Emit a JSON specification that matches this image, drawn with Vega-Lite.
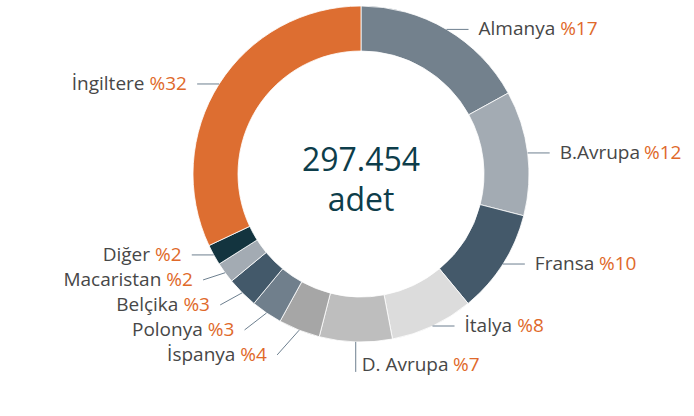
{
  "$schema": "https://vega.github.io/schema/vega-lite/v6.json",
  "autosize": {"type": "none"},
  "width": 666,
  "height": 348,
  "padding": {"left": 28, "top": 0, "right": 0, "bottom": 68},
  "background": "white",
  "config": {"view": {"stroke": null}, "font": "Open Sans"},
  "datasets": {
    "shares": [
      {"country": "Almanya", "value": 17, "order": 1},
      {"country": "B.Avrupa", "value": 12, "order": 2},
      {"country": "Fransa", "value": 10, "order": 3},
      {"country": "İtalya", "value": 8, "order": 4},
      {"country": "D. Avrupa", "value": 7, "order": 5},
      {"country": "İspanya", "value": 4, "order": 6},
      {"country": "Polonya", "value": 3, "order": 7},
      {"country": "Belçika", "value": 3, "order": 8},
      {"country": "Macaristan", "value": 2, "order": 9},
      {"country": "Diğer", "value": 2, "order": 10},
      {"country": "İngiltere", "value": 32, "order": 11}
    ],
    "total": [{"amount": "297.454", "unit": "adet"}]
  },
  "data": {"name": "shares"},
  "transform": [
    {"joinaggregate": [{"op": "sum", "field": "value", "as": "total"}]},
    {"window": [{"op": "sum", "field": "value", "as": "cum"}], "sort": [{"field": "order"}], "frame": [null, 0]},
    {"calculate": "2*PI*(datum.cum - datum.value/2)/datum.total", "as": "ang"},
    {"calculate": "168*sin(datum.ang)", "as": "ax"},
    {"calculate": "168*cos(datum.ang)", "as": "ay"},
    {"calculate": "abs(sin(datum.ang)) < 0.2", "as": "vert"},
    {"calculate": "(datum.vert || sin(datum.ang) > 0) ? 'left' : 'right'", "as": "side"},
    {"calculate": "datum.vert ? datum.ay - 23 : datum.ay", "as": "ty"},
    {"window": [{"op": "row_number", "as": "k"}], "groupby": ["side"], "sort": [{"field": "ty", "order": "descending"}]},
    {"calculate": "datum.ty + 25*datum.k", "as": "tk"},
    {"window": [{"op": "min", "field": "tk", "as": "mk"}], "groupby": ["side"], "sort": [{"field": "ty", "order": "descending"}], "frame": [null, 0]},
    {"calculate": "datum.mk - 25*datum.k", "as": "ly"},
    {"calculate": "datum.vert ? datum.ax : datum.ax + (datum.side == 'left' ? 22 : -22)", "as": "ex"},
    {"calculate": "datum.vert ? datum.ay - 30 : datum.ly", "as": "ey"},
    {"calculate": "datum.vert ? datum.ax + 6 : datum.ex + (datum.side == 'left' ? 10 : -10)", "as": "lx"},
    {"calculate": "'%' + datum.value", "as": "pct"},
    {"calculate": "19*(0.838 + 0.572*(length(datum.pct) - 1))", "as": "wpct"},
    {"calculate": "19*(0.6*length(datum.country) - 0.34*(length(datum.country) - length(replace(datum.country, regexp('[ilİI. ]', 'g'), ''))) - 0.22*(length(datum.country) - length(replace(datum.country, regexp('[rtfj]', 'g'), ''))) - 0.1*(length(datum.country) - length(replace(datum.country, regexp('[scçvykzFL]', 'g'), ''))) - 0.044*(length(datum.country) - length(replace(datum.country, regexp('[ae]', 'g'), ''))) + 0.02*(length(datum.country) - length(replace(datum.country, regexp('[nupdbhqoğgABP]', 'g'), ''))) + 0.13*(length(datum.country) - length(replace(datum.country, regexp('[DCNHRU]', 'g'), ''))) + 0.32*(length(datum.country) - length(replace(datum.country, regexp('[mMW]', 'g'), ''))))", "as": "wname"},
    {"calculate": "datum.side == 'left' ? datum.lx : datum.lx - datum.wpct - 5", "as": "nx"},
    {"calculate": "datum.side == 'left' ? datum.lx + datum.wname + 5 : datum.lx - datum.wpct", "as": "px"}
  ],
  "layer": [
    {
      "mark": {"type": "arc", "outerRadius": 168, "innerRadius": 123, "stroke": "white", "strokeWidth": 0.8},
      "encoding": {
        "theta": {"field": "value", "type": "quantitative", "stack": true},
        "order": {"field": "order", "type": "quantitative"},
        "color": {
          "field": "country", "type": "nominal", "legend": null,
          "scale": {
            "domain": ["Almanya", "B.Avrupa", "Fransa", "İtalya", "D. Avrupa", "İspanya", "Polonya", "Belçika", "Macaristan", "Diğer", "İngiltere"],
            "range": ["#73818d", "#a3abb3", "#44596a", "#dcdcdc", "#bebebe", "#a6a6a6", "#707f8c", "#43596a", "#a3abb3", "#13343f", "#dd6e31"]
          }
        }
      }
    },
    {
      "mark": {"type": "rule", "color": "#6d7f8f", "strokeWidth": 1},
      "encoding": {
        "x": {"field": "ax", "type": "quantitative", "scale": {"domain": [-333, 333], "nice": false, "zero": false}, "axis": null},
        "y": {"field": "ay", "type": "quantitative", "scale": {"domain": [-174, 174], "nice": false, "zero": false}, "axis": null},
        "x2": {"field": "ex"},
        "y2": {"field": "ey"}
      }
    },
    {
      "transform": [{"filter": "datum.side == 'left'"}],
      "mark": {"type": "text", "align": "left", "baseline": "middle", "fontSize": 19, "fill": "#474747"},
      "encoding": {"x": {"field": "nx", "type": "quantitative"}, "y": {"field": "ly", "type": "quantitative"}, "text": {"field": "country"}}
    },
    {
      "transform": [{"filter": "datum.side == 'right'"}],
      "mark": {"type": "text", "align": "right", "baseline": "middle", "fontSize": 19, "fill": "#474747"},
      "encoding": {"x": {"field": "nx", "type": "quantitative"}, "y": {"field": "ly", "type": "quantitative"}, "text": {"field": "country"}}
    },
    {
      "mark": {"type": "text", "align": "left", "baseline": "middle", "fontSize": 19, "fill": "#e0692a"},
      "encoding": {"x": {"field": "px", "type": "quantitative"}, "y": {"field": "ly", "type": "quantitative"}, "text": {"field": "pct"}}
    },
    {
      "data": {"name": "total"},
      "transform": [{"calculate": "[datum.amount, datum.unit]", "as": "lines"}],
      "mark": {"type": "text", "align": "center", "baseline": "alphabetic", "fontSize": 32, "fontWeight": 500, "lineHeight": 40, "fill": "#0d3d4a", "dy": -3},
      "encoding": {"text": {"field": "lines"}}
    }
  ]
}
